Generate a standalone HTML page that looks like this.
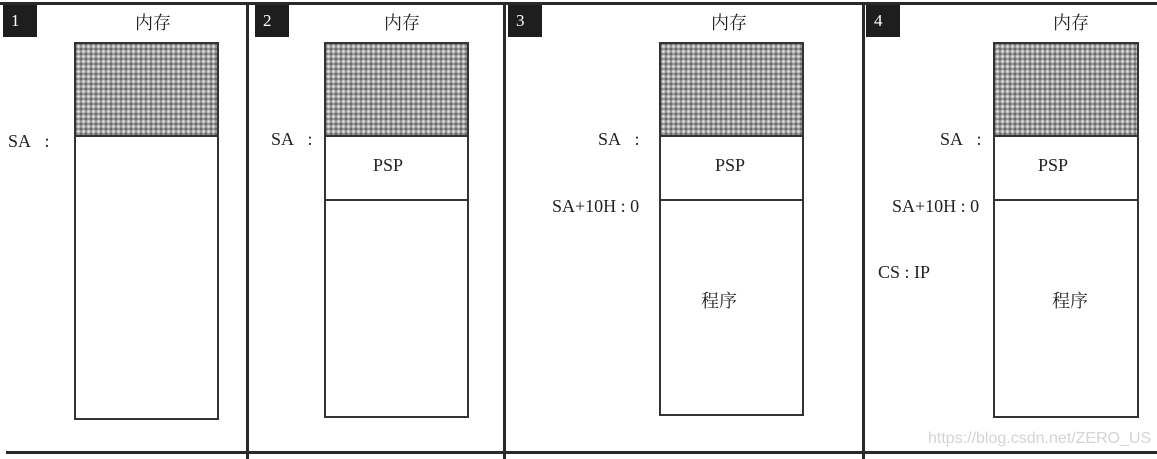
<!DOCTYPE html>
<html><head><meta charset="utf-8"><style>
body{margin:0;width:1157px;height:459px;background:#fff;position:relative;overflow:hidden;font-family:"Liberation Serif","Noto Serif CJK SC",serif;color:#222}
.a{position:absolute}
.h{position:absolute;background:#2a2a2a}
.num{position:absolute;background:#1e1e1e;color:#fff;font-size:17px;width:34px;height:32px;line-height:32px;padding-left:8px;box-sizing:border-box}
.box{position:absolute;border:2px solid #333;box-sizing:border-box;background:#fff}
.g{position:absolute;left:0;right:0;top:0;background:#9a9a9a;background-image:radial-gradient(circle,#e0e0e0 1px,transparent 1.6px),radial-gradient(circle,#666 1px,transparent 1.6px);background-size:5px 5px,5px 5px;background-position:0 0,2.5px 2.5px;border-bottom:2px solid #333}
.ln{position:absolute;left:0;right:0;height:2px;background:#333}
.t{position:absolute;font-size:18px;white-space:nowrap}
</style></head><body>
<div class="h" style="left:0;top:2px;width:1157px;height:3px"></div>
<div class="h" style="left:6px;top:451px;width:1151px;height:3px"></div>
<div class="h" style="left:246px;top:2px;width:3px;height:457px"></div>
<div class="h" style="left:503px;top:2px;width:3px;height:457px"></div>
<div class="h" style="left:862px;top:2px;width:3px;height:457px"></div>

<div class="num" style="left:3px;top:5px">1</div>
<div class="num" style="left:255px;top:5px">2</div>
<div class="num" style="left:508px;top:5px">3</div>
<div class="num" style="left:866px;top:5px">4</div>

<div class="t" style="left:135px;top:9px">内存</div>
<div class="t" style="left:384px;top:9px">内存</div>
<div class="t" style="left:711px;top:9px">内存</div>
<div class="t" style="left:1053px;top:9px">内存</div>

<div class="box" style="left:74px;top:42px;width:145px;height:378px"><div class="g" style="height:91px"></div></div>
<div class="box" style="left:324px;top:42px;width:145px;height:376px"><div class="g" style="height:91px"></div><div class="ln" style="top:155px"></div><div class="t" style="left:47px;top:111px">PSP</div></div>
<div class="box" style="left:659px;top:42px;width:145px;height:374px"><div class="g" style="height:91px"></div><div class="ln" style="top:155px"></div><div class="t" style="left:54px;top:111px">PSP</div><div class="t" style="left:40px;top:243px">程序</div></div>
<div class="box" style="left:993px;top:42px;width:146px;height:376px"><div class="g" style="height:91px"></div><div class="ln" style="top:155px"></div><div class="t" style="left:43px;top:111px">PSP</div><div class="t" style="left:57px;top:243px">程序</div></div>

<div class="t" style="left:8px;top:131px">SA&nbsp;&nbsp;&nbsp;:</div>
<div class="t" style="left:271px;top:129px">SA&nbsp;&nbsp;&nbsp;:</div>
<div class="t" style="left:598px;top:129px">SA&nbsp;&nbsp;&nbsp;:</div>
<div class="t" style="left:552px;top:196px">SA+10H : 0</div>
<div class="t" style="left:940px;top:129px">SA&nbsp;&nbsp;&nbsp;:</div>
<div class="t" style="left:892px;top:196px">SA+10H : 0</div>
<div class="t" style="left:878px;top:262px">CS : IP</div>
<div class="a" style="left:928px;top:430px;font-family:'Liberation Sans',sans-serif;font-size:16px;color:#d4d4d4">https://blog.csdn.net/ZERO_US</div>
</body></html>
